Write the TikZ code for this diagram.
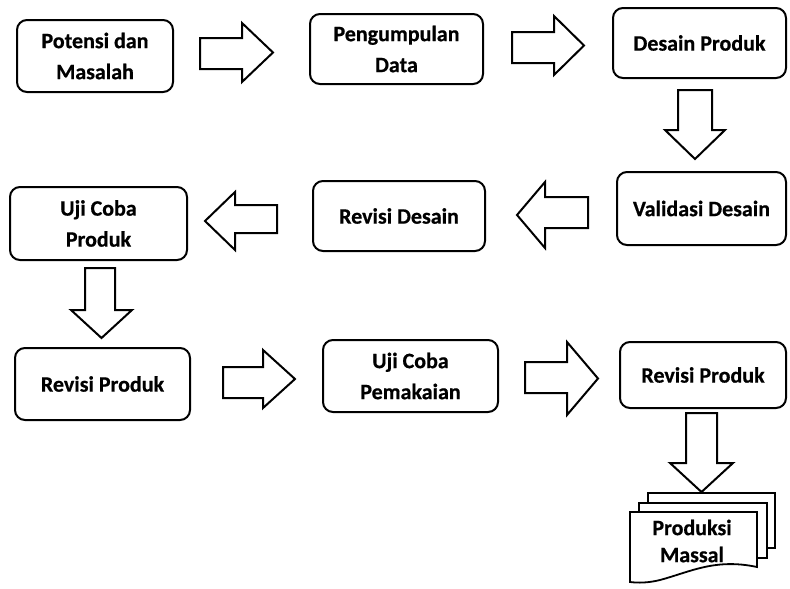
\documentclass[tikz,border=0pt]{standalone}
\usepackage{fontspec}
\setmainfont{Carlito}[BoldFeatures={FakeBold=0.6}]
\begin{document}
\begin{tikzpicture}[x=1pt,y=-1pt,
  stepbox/.style={draw=black,line width=2pt,rounded corners=10pt,fill=white,align=center,
    font=\bfseries\fontsize{22}{31}\selectfont,inner sep=0pt},
  blockarr/.style={draw=black,line width=2pt,fill=white,line join=miter},
  page/.style={draw=black,line width=1.8pt,fill=white}]
\useasboundingbox (0,0) rectangle (790,589);
% boxes
\node[stepbox,minimum width=156pt,minimum height=72pt] (b1) at (95,56) {Potensi dan\\Masalah};
\node[stepbox,minimum width=173pt,minimum height=70pt] (b2) at (396.5,49) {Pengumpulan\\Data};
\node[stepbox,minimum width=173pt,minimum height=70pt] (b3) at (699.5,43) {Desain Produk};
\node[stepbox,minimum width=169pt,minimum height=73pt] (b4) at (701.5,208.5) {Validasi Desain};
\node[stepbox,minimum width=172pt,minimum height=70pt] (b5) at (399,216) {Revisi Desain};
\node[stepbox,minimum width=177pt,minimum height=73pt] (b6) at (98.5,223.5) {Uji Coba\\Produk};
\node[stepbox,minimum width=175pt,minimum height=72pt] (b7) at (102.5,384) {Revisi Produk};
\node[stepbox,minimum width=175pt,minimum height=72pt] (b8) at (410.5,376) {Uji Coba\\Pemakaian};
\node[stepbox,minimum width=166pt,minimum height=66pt] (b9) at (703,375) {Revisi Produk};
% block arrows
\draw[blockarr] (200,38)--(242,38)--(242,23)--(273,52.5)--(242,82)--(242,69)--(200,69)--cycle;
\draw[blockarr] (512,32)--(554,32)--(554,16)--(584,45.5)--(554,75)--(554,63)--(512,63)--cycle;
\draw[blockarr] (678,90)--(712,90)--(712,130)--(725,130)--(695,159)--(665,130)--(678,130)--cycle;
\draw[blockarr] (588,197)--(545,197)--(545,182)--(517,215)--(545,248)--(545,228)--(588,228)--cycle;
\draw[blockarr] (277,205)--(235,205)--(235,192)--(205,221)--(235,250)--(235,233)--(277,233)--cycle;
\draw[blockarr] (85,268)--(115,268)--(115,310)--(132,310)--(101.5,338)--(71,310)--(85,310)--cycle;
\draw[blockarr] (223,367)--(263,367)--(263,350)--(295,379)--(263,408)--(263,398)--(223,398)--cycle;
\draw[blockarr] (525,362)--(567,362)--(567,342)--(598,378.5)--(567,415)--(567,393)--(525,393)--cycle;
\draw[blockarr] (686,413)--(717,413)--(717,463)--(733,463)--(701.5,492)--(670,463)--(686,463)--cycle;
% multidocument
\draw[page] (648,493) rectangle (775,548);
\draw[page] (639,503) rectangle (767,558);
\draw[page] (630,512) -- (757,512) -- (757,567)
  .. controls (715,558) and (690,572) .. (660,580)
  .. controls (648,583) and (638,583) .. (630,582) -- cycle;
\node[align=center,font=\bfseries\fontsize{22}{27}\selectfont,inner sep=0pt] (pm) at (692,541) {Produksi\\Massal};
\end{tikzpicture}
\end{document}
